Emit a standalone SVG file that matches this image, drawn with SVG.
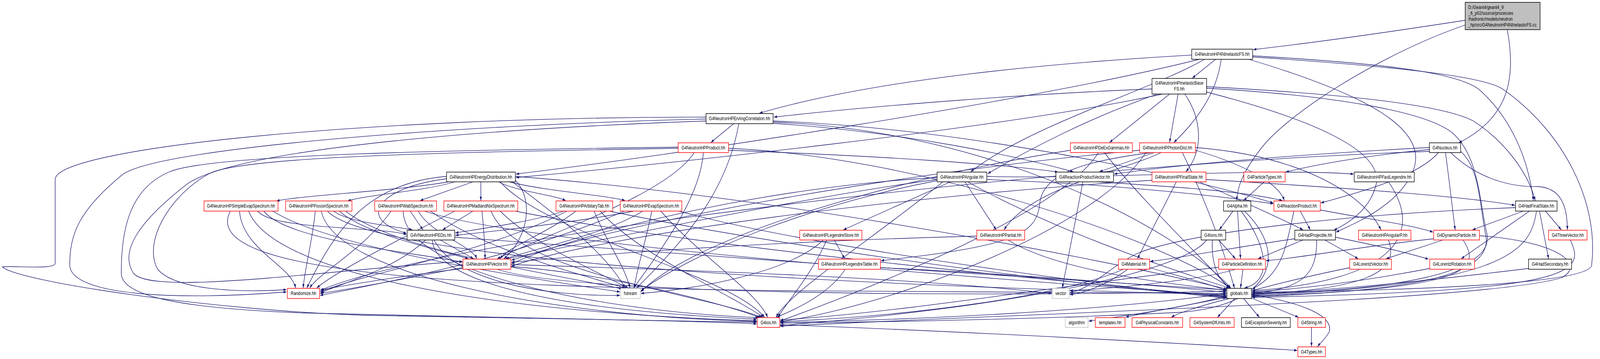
<svg xmlns="http://www.w3.org/2000/svg" width="5278" height="920" viewBox="0 0 5278 920">
<style>
.e{fill:none;stroke:#191970;stroke-width:1.3;marker-end:url(#a);vector-effect:non-scaling-stroke}
rect{vector-effect:non-scaling-stroke}
.n rect{fill:#fff;stroke:#000;stroke-width:1.3}
.r rect{fill:#fff;stroke:#ff0000;stroke-width:1.3}
.g rect{fill:#fff;stroke:#bfbfbf;stroke-width:1.3}
.root rect{fill:#bfbfbf;stroke:#000;stroke-width:1.3}
text{font-family:"Liberation Sans",Arial,Helvetica,sans-serif;font-size:13px;fill:#000;text-anchor:middle}
.root text{text-anchor:start}
</style>
<defs>
<marker id="a" markerUnits="userSpaceOnUse" markerWidth="11" markerHeight="8" refX="10" refY="3.5" orient="auto"><path d="M0,0 L10,3.5 L0,7 z" fill="#191970"/></marker>
</defs>
<rect x="0" y="0" width="5278" height="920" fill="#fff"/>
<g id="diagram" transform="scale(0.7761,1)">
<g id="edges">
<path class="e" d="M4833,52 C4600,80 4350,108 4134,127"/>
<path class="e" d="M4833,64 C4550,140 4250,290 4160,380 C4100,440 4080,480 4080,514"/>
<path class="e" d="M4972,76 C5000,200 4980,300 4812,366"/>
<path class="e" d="M4010,152 L3933,200"/>
<path class="e" d="M4028,152 C4015,230 3960,300 3872,365"/>
<path class="e" d="M3931,141 C3500,160 2900,200 2505,290"/>
<path class="e" d="M3956,152 C3400,260 2200,400 1702,446"/>
<path class="e" d="M3973,152 C3800,230 3400,320 3202,440"/>
<path class="e" d="M4132,143 C4500,160 4800,180 4880,230 C4980,300 5040,400 5058,514"/>
<path class="e" d="M4132,146 C4600,170 4900,195 4960,230 C5160,340 5275,520 5250,680 C5240,730 4600,745 4130,749"/>
<path class="e" d="M4119,152 C4500,240 4720,330 4660,440 C4610,530 4460,575 4407,595"/>
<path class="e" d="M3800,228 C3400,240 2900,270 2553,300"/>
<path class="e" d="M3818,241 C3600,300 3400,380 3258,445"/>
<path class="e" d="M3835,241 C3300,330 2200,420 1702,455"/>
<path class="e" d="M3858,241 L3660,365"/>
<path class="e" d="M3886,241 L3858,365"/>
<path class="e" d="M3908,241 C3960,300 3975,380 3912,440"/>
<path class="e" d="M3980,222 C4400,240 4750,265 4860,310 C4960,360 5040,440 5064,514"/>
<path class="e" d="M3980,226 C4400,245 4700,285 4790,340 C4880,400 4880,520 4905,600 C4930,700 4600,745 4130,753"/>
<path class="e" d="M3980,236 C4300,300 4560,380 4540,470 C4520,540 4440,575 4400,590"/>
<path class="e" d="M2420,317 L2345,365"/>
<path class="e" d="M2437,317 C2400,480 2280,600 2100,738"/>
<path class="e" d="M2550,310 C3200,330 3900,450 4200,520"/>
<path class="e" d="M2550,316 C3000,340 3350,400 3540,440"/>
<path class="e" d="M2550,313 C3300,335 3900,600 4060,738"/>
<path class="e" d="M2329,300 C1200,300 182,380 182,460 L182,675 C182,692 30,680 8,684 C60,722 700,795 1200,808 C1800,818 2300,824 2496,826"/>
<path class="e" d="M2329,305 C1500,320 500,380 400,450 C260,540 230,600 230,680 C235,760 600,770 945,748"/>
<path class="e" d="M2329,310 C1600,330 800,380 620,470 C470,560 390,640 440,700 C500,760 1100,690 1525,670"/>
<path class="e" d="M2237,377 C1500,385 700,395 560,440 C420,485 400,600 400,700 C400,760 600,790 1000,802 C1700,815 2300,822 2496,830"/>
<path class="e" d="M2237,380 C1500,390 800,400 690,445 C560,500 470,620 520,690 C580,745 800,750 945,742"/>
<path class="e" d="M2290,391 C2200,500 1800,600 1640,663"/>
<path class="e" d="M2320,391 C2310,500 2200,620 2090,738"/>
<path class="e" d="M2403,380 C3000,400 3800,600 4058,738"/>
<path class="e" d="M2403,385 C2900,400 3300,420 3490,441"/>
<path class="e" d="M1480,466 C1300,490 1000,500 912,515"/>
<path class="e" d="M1500,466 C1400,490 1200,500 1147,515"/>
<path class="e" d="M1560,466 L1386,514"/>
<path class="e" d="M1586,466 L1586,514"/>
<path class="e" d="M1645,466 C1700,490 1830,500 1866,514"/>
<path class="e" d="M1680,466 C1800,490 2000,500 2062,514"/>
<path class="e" d="M1474,458 C1250,480 1170,560 1341,598"/>
<path class="e" d="M1700,462 C1770,520 1730,620 1662,663"/>
<path class="e" d="M1473,452 C1200,470 1100,600 1012,738"/>
<path class="e" d="M1690,466 C1850,560 2000,650 2062,738"/>
<path class="e" d="M1700,452 C2500,500 3500,640 4048,741"/>
<path class="e" d="M1650,466 C1800,600 2400,700 2522,813"/>
<path class="e" d="M850,541 C900,590 1250,580 1341,601"/>
<path class="e" d="M870,541 C950,620 1400,650 1525,672"/>
<path class="e" d="M790,541 C800,640 960,680 975,738"/>
<path class="e" d="M900,541 C1100,640 1800,720 2045,748"/>
<path class="e" d="M760,541 C650,700 1500,735 2600,745 C3300,750 3800,750 4045,752"/>
<path class="e" d="M820,541 C900,700 1600,800 2496,822"/>
<path class="e" d="M1100,541 C1150,570 1300,580 1360,589"/>
<path class="e" d="M1120,541 C1200,600 1450,640 1545,663"/>
<path class="e" d="M1040,541 C1030,620 1005,690 1000,738"/>
<path class="e" d="M1140,541 C1300,640 1800,700 2052,740"/>
<path class="e" d="M1080,541 C1200,640 2200,720 4045,755"/>
<path class="e" d="M1060,541 C1100,700 1800,810 2496,824"/>
<path class="e" d="M1353,541 L1395,589"/>
<path class="e" d="M1380,541 C1420,600 1560,630 1572,663"/>
<path class="e" d="M1290,541 C1200,640 1050,700 1022,738"/>
<path class="e" d="M1420,541 C1600,640 1900,700 2062,738"/>
<path class="e" d="M1400,541 C1700,620 3000,700 4045,758"/>
<path class="e" d="M1330,541 C1330,700 2000,800 2502,814"/>
<path class="e" d="M1560,541 L1460,589"/>
<path class="e" d="M1590,541 C1595,590 1600,620 1600,663"/>
<path class="e" d="M1500,541 C1300,620 1100,700 1045,738"/>
<path class="e" d="M1650,541 C1750,620 1950,690 2072,738"/>
<path class="e" d="M1700,541 C2200,620 3200,700 4045,760"/>
<path class="e" d="M1620,541 C1700,700 2300,750 2512,813"/>
<path class="e" d="M1860,541 C1750,570 1550,590 1502,597"/>
<path class="e" d="M1900,541 C1800,600 1680,630 1650,663"/>
<path class="e" d="M1870,541 C1600,650 1200,700 1056,748"/>
<path class="e" d="M1960,541 C2000,620 2060,680 2078,738"/>
<path class="e" d="M2010,541 C2500,620 3400,720 4045,762"/>
<path class="e" d="M1980,541 C2100,650 2400,750 2518,813"/>
<path class="e" d="M2090,541 C1900,570 1600,595 1502,603"/>
<path class="e" d="M2120,541 C2000,600 1750,640 1668,663"/>
<path class="e" d="M2060,541 C1700,660 1300,720 1056,757"/>
<path class="e" d="M2150,541 C2130,620 2100,690 2092,738"/>
<path class="e" d="M2240,541 C2600,620 3500,720 4045,764"/>
<path class="e" d="M2180,541 C2300,650 2500,750 2532,813"/>
<path class="e" d="M3135,466 L2782,589"/>
<path class="e" d="M3183,466 L3286,589"/>
<path class="e" d="M3255,452 C3600,460 4200,430 4465,446"/>
<path class="e" d="M3255,460 C3600,470 3900,490 4200,522"/>
<path class="e" d="M3192,466 C3500,600 3900,700 4055,738"/>
<path class="e" d="M3091,455 C2500,480 1900,600 1687,676"/>
<path class="e" d="M3091,460 C2500,520 1500,700 1056,752"/>
<path class="e" d="M3110,466 C2900,600 2600,750 2560,813"/>
<path class="e" d="M3091,463 C2700,520 2300,640 2114,745"/>
<path class="e" d="M3620,466 C3900,480 4100,490 4230,514"/>
<path class="e" d="M3572,466 L3504,738"/>
<path class="e" d="M3880,466 L3752,663"/>
<path class="e" d="M3956,466 C4050,500 4200,550 4298,589"/>
<path class="e" d="M3978,460 C4400,480 4800,500 4997,526"/>
<path class="e" d="M3800,462 C3000,500 2000,600 1687,682"/>
<path class="e" d="M4170,466 L4102,514"/>
<path class="e" d="M4580,466 C4700,600 4600,720 4130,745"/>
<path class="e" d="M4067,541 L4022,589"/>
<path class="e" d="M4082,541 L4092,663"/>
<path class="e" d="M4094,541 C4180,630 4200,720 4105,738"/>
<path class="e" d="M4105,541 C4250,650 4200,780 3900,800 C3400,820 2800,826 2574,828"/>
<path class="e" d="M4289,541 L4322,589"/>
<path class="e" d="M4268,541 C4240,640 4230,700 4130,741"/>
<path class="e" d="M4355,538 C4500,560 4650,575 4727,595"/>
<path class="e" d="M5025,541 L4857,589"/>
<path class="e" d="M5045,541 L4820,663"/>
<path class="e" d="M5098,541 L5150,589"/>
<path class="e" d="M5078,541 L5108,663"/>
<path class="e" d="M5068,541 C5050,650 4950,730 4130,757"/>
<path class="e" d="M4999,532 C4400,550 3900,600 3750,650 C3650,690 3600,740 3529,750"/>
<path class="e" d="M4020,615 L4075,663"/>
<path class="e" d="M3999,615 C3995,680 4020,720 4058,738"/>
<path class="e" d="M3980,615 C3900,700 3300,790 2574,834"/>
<path class="e" d="M4271,612 C4100,630 3900,660 3794,670"/>
<path class="e" d="M4298,615 L4150,663"/>
<path class="e" d="M4370,615 L4480,663"/>
<path class="e" d="M4405,608 C4550,630 4650,650 4712,664"/>
<path class="e" d="M4343,615 C4345,700 4300,740 4130,752"/>
<path class="e" d="M4580,615 C4620,700 4500,740 4130,755"/>
<path class="e" d="M4760,615 L4572,663"/>
<path class="e" d="M4729,612 C4500,630 4300,660 4176,668"/>
<path class="e" d="M4826,615 C4900,700 4800,740 4130,759"/>
<path class="e" d="M4880,604 C5150,620 5230,680 5150,712 C4900,770 3500,800 2574,836"/>
<path class="e" d="M5180,615 C5230,700 5200,745 4130,762"/>
<path class="e" d="M1527,688 C1300,710 1150,730 1058,743"/>
<path class="e" d="M1640,690 C1900,760 3400,760 4045,746"/>
<path class="e" d="M1685,683 C2000,700 2400,780 2506,814"/>
<path class="e" d="M1685,678 C2200,690 3000,710 3469,752"/>
<path class="e" d="M1404,615 C1300,690 1150,720 1058,750"/>
<path class="e" d="M1452,615 L1562,663"/>
<path class="e" d="M1426,615 C1430,700 1700,790 2496,818"/>
<path class="e" d="M1500,608 C2200,650 3500,720 4045,743"/>
<path class="e" d="M1432,615 C1500,720 1800,760 2045,757"/>
<path class="e" d="M2752,615 L2786,663"/>
<path class="e" d="M2727,615 C2680,700 2600,770 2566,813"/>
<path class="e" d="M2716,615 C2600,700 2300,740 2114,752"/>
<path class="e" d="M3222,605 C2500,620 2000,650 1687,672"/>
<path class="e" d="M3325,615 C3500,700 3900,730 4045,744"/>
<path class="e" d="M2788,690 C2730,760 2600,800 2562,813"/>
<path class="e" d="M2904,686 C3300,700 3800,730 4045,749"/>
<path class="e" d="M3792,686 C3900,710 4000,730 4045,745"/>
<path class="e" d="M3706,690 C3500,760 3000,810 2574,824"/>
<path class="e" d="M3720,690 C3650,730 3580,750 3529,755"/>
<path class="e" d="M4100,690 L4092,738"/>
<path class="e" d="M4020,685 C3600,720 3000,800 2574,820"/>
<path class="e" d="M4076,690 C3950,720 3650,740 3529,745"/>
<path class="e" d="M4452,686 C4300,710 4200,730 4130,745"/>
<path class="e" d="M4716,688 C4500,720 4300,740 4130,748"/>
<path class="e" d="M5042,688 C4700,720 4400,745 4130,752"/>
<path class="e" d="M2572,832 C3200,850 3900,880 4279,898"/>
<path class="e" d="M4326,839 L4326,888"/>
<path class="e" d="M4047,762 C3900,785 3750,805 3713,813"/>
<path class="e" d="M4055,765 C3950,785 3880,805 3864,813"/>
<path class="e" d="M4073,765 L4016,813"/>
<path class="e" d="M4102,765 L4154,813"/>
<path class="e" d="M4128,764 L4283,813"/>
<path class="e" d="M4128,755 C4250,770 4400,800 4385,850 C4370,870 4352,882 4346,888"/>
<path class="e" d="M4047,758 C3900,790 3700,810 3591,823"/>
<path class="e" d="M4047,752 C3600,800 3000,820 2574,826"/>
<path class="e" d="M4715,378 C4300,395 3900,420 3675,446"/>
<path class="e" d="M4715,383 C4500,400 4350,420 4241,441"/>
<path class="e" d="M4715,388 C3500,420 1500,600 1056,744"/>
<path class="e" d="M4745,391 C4680,450 4500,490 4357,520"/>
<path class="e" d="M4768,391 C4780,460 4790,530 4800,589"/>
<path class="e" d="M4785,391 C4850,440 4950,480 5070,478 C5150,480 5170,530 5170,589"/>
<path class="e" d="M4818,388 C4880,430 4880,520 4900,600 C4930,700 4700,745 4130,760"/>
<path class="e" d="M3531,385 C3000,450 2300,600 2114,748"/>
<path class="e" d="M3643,391 C3750,500 3950,650 4055,738"/>
<path class="e" d="M3623,391 C3500,550 2800,760 2574,822"/>
<path class="e" d="M3807,391 L3627,440"/>
<path class="e" d="M3759,385 C3000,440 2100,560 1687,667"/>
<path class="e" d="M3800,391 C3600,410 3440,440 3430,520 C3420,600 3350,630 2906,668"/>
<path class="e" d="M3943,378 C4300,400 4500,500 4555,589"/>
<path class="e" d="M3830,391 C3700,440 3400,480 3312,589"/>
<path class="e" d="M3900,391 C4000,550 4050,680 4072,738"/>
<path class="e" d="M3780,391 C3600,600 2900,790 2574,824"/>
<path class="e" d="M3943,385 C4100,420 4220,470 4236,514"/>
</g>
<g id="node-root" class="root"><rect x="4833" y="6" width="247" height="70"/><text x="4843" y="23">D:/Geant4/geant4_9</text><text x="4843" y="38">_6_p02/source/processes</text><text x="4843" y="53">/hadronic/models/neutron</text><text x="4843" y="68">_hp/src/G4NeutronHP4NInelasticFS.cc</text></g>
<g id="node-n4N" class="n"><rect x="3931" y="126" width="201" height="26"/><text x="4031.5" y="143">G4NeutronHP4NInelasticFS.hh</text></g>
<g id="node-base" class="n"><rect x="3800" y="201" width="180" height="40"/><text x="3890" y="217">G4NeutronHPInelasticBase</text><text x="3890" y="232">FS.hh</text></g>
<g id="node-enang" class="n"><rect x="2329" y="291" width="221" height="26"/><text x="2439.5" y="308">G4NeutronHPEnAngCorrelation.hh</text></g>
<g id="node-product" class="r"><rect x="2237" y="366" width="166" height="25"/><text x="2320" y="383">G4NeutronHPProduct.hh</text></g>
<g id="node-deex" class="r"><rect x="3531" y="366" width="204" height="25"/><text x="3633" y="383">G4NeutronHPDeExGammas.hh</text></g>
<g id="node-photon" class="r"><rect x="3759" y="366" width="184" height="25"/><text x="3851" y="383">G4NeutronHPPhotonDist.hh</text></g>
<g id="node-nucleus" class="n"><rect x="4715" y="366" width="103" height="25"/><text x="4766.5" y="383">G4Nucleus.hh</text></g>
<g id="node-energy" class="n"><rect x="1473" y="441" width="227" height="25"/><text x="1586.5" y="458">G4NeutronHPEnergyDistribution.hh</text></g>
<g id="node-angular" class="n"><rect x="3091" y="441" width="164" height="25"/><text x="3173" y="458">G4NeutronHPAngular.hh</text></g>
<g id="node-rpv" class="n"><rect x="3483" y="441" width="190" height="25"/><text x="3578" y="458">G4ReactionProductVector.hh</text></g>
<g id="node-fs" class="r"><rect x="3800" y="441" width="178" height="25"/><text x="3889" y="458">G4NeutronHPFinalState.hh</text></g>
<g id="node-ptypes" class="r"><rect x="4103" y="441" width="136" height="25"/><text x="4171" y="458">G4ParticleTypes.hh</text></g>
<g id="node-fastleg" class="n"><rect x="4467" y="441" width="198" height="25"/><text x="4566" y="458">G4NeutronHPFastLegendre.hh</text></g>
<g id="node-simple" class="r"><rect x="673" y="515" width="244" height="26"/><text x="795" y="532">G4NeutronHPSimpleEvapSpectrum.hh</text></g>
<g id="node-fission" class="r"><rect x="942" y="515" width="219" height="26"/><text x="1051.5" y="532">G4NeutronHPFissionSpectrum.hh</text></g>
<g id="node-watt" class="r"><rect x="1236" y="515" width="204" height="26"/><text x="1338" y="532">G4NeutronHPWattSpectrum.hh</text></g>
<g id="node-madland" class="r"><rect x="1464" y="515" width="244" height="26"/><text x="1586" y="532">G4NeutronHPMadlandNixSpectrum.hh</text></g>
<g id="node-arbit" class="r"><rect x="1834" y="515" width="187" height="26"/><text x="1927.5" y="532">G4NeutronHPArbitaryTab.hh</text></g>
<g id="node-evap" class="r"><rect x="2046" y="515" width="203" height="26"/><text x="2147.5" y="532">G4NeutronHPEvapSpectrum.hh</text></g>
<g id="node-alpha" class="n"><rect x="4036" y="515" width="90" height="26"/><text x="4081" y="532">G4Alpha.hh</text></g>
<g id="node-rp" class="r"><rect x="4202" y="515" width="153" height="26"/><text x="4278.5" y="532">G4ReactionProduct.hh</text></g>
<g id="node-hadfs" class="n"><rect x="4999" y="515" width="137" height="26"/><text x="5067.5" y="532">G4HadFinalState.hh</text></g>
<g id="node-vedis" class="n"><rect x="1343" y="590" width="157" height="25"/><text x="1421.5" y="607">G4VNeutronHPEDis.hh</text></g>
<g id="node-lstore" class="r"><rect x="2638" y="590" width="205" height="25"/><text x="2740.5" y="607">G4NeutronHPLegendreStore.hh</text></g>
<g id="node-partial" class="r"><rect x="3222" y="590" width="158" height="25"/><text x="3301" y="607">G4NeutronHPPartial.hh</text></g>
<g id="node-ions" class="n"><rect x="3962" y="590" width="81" height="25"/><text x="4002.5" y="607">G4Ions.hh</text></g>
<g id="node-hadproj" class="n"><rect x="4271" y="590" width="134" height="25"/><text x="4338" y="607">G4HadProjectile.hh</text></g>
<g id="node-angp" class="r"><rect x="4481" y="590" width="173" height="25"/><text x="4567.5" y="607">G4NeutronHPAngularP.hh</text></g>
<g id="node-dynp" class="r"><rect x="4729" y="590" width="151" height="25"/><text x="4804.5" y="607">G4DynamicParticle.hh</text></g>
<g id="node-three" class="r"><rect x="5108" y="590" width="127" height="25"/><text x="5171.5" y="607">G4ThreeVector.hh</text></g>
<g id="node-hpvec" class="r"><rect x="1527" y="664" width="158" height="26"/><text x="1606" y="681">G4NeutronHPVector.hh</text></g>
<g id="node-ltable" class="r"><rect x="2700" y="664" width="204" height="26"/><text x="2802" y="681">G4NeutronHPLegendreTable.hh</text></g>
<g id="node-material" class="r"><rect x="3689" y="664" width="103" height="26"/><text x="3740.5" y="681">G4Material.hh</text></g>
<g id="node-pdef" class="r"><rect x="4020" y="664" width="154" height="26"/><text x="4097" y="681">G4ParticleDefinition.hh</text></g>
<g id="node-lvec" class="r"><rect x="4452" y="664" width="138" height="26"/><text x="4521" y="681">G4LorentzVector.hh</text></g>
<g id="node-lrot" class="r"><rect x="4716" y="664" width="148" height="26"/><text x="4790" y="681">G4LorentzRotation.hh</text></g>
<g id="node-hadsec" class="n"><rect x="5042" y="664" width="142" height="26"/><text x="5113" y="681">G4HadSecondary.hh</text></g>
<g id="node-random" class="r"><rect x="948" y="739" width="106" height="26"/><text x="1001" y="756">Randomize.hh</text></g>
<g id="node-fstream" class="g"><rect x="2047" y="739" width="65" height="26"/><text x="2079.5" y="756">fstream</text></g>
<g id="node-vector" class="g"><rect x="3471" y="739" width="56" height="26"/><text x="3499" y="756">vector</text></g>
<g id="node-globals" class="n"><rect x="4047" y="739" width="81" height="26"/><text x="4087.5" y="756">globals.hh</text></g>
<g id="node-ios" class="r"><rect x="2498" y="814" width="74" height="25"/><text x="2535" y="831">G4ios.hh</text></g>
<g id="node-algorithm" class="g"><rect x="3514" y="814" width="75" height="25"/><text x="3551.5" y="831">algorithm</text></g>
<g id="node-templates" class="r"><rect x="3613" y="814" width="98" height="25"/><text x="3662" y="831">templates.hh</text></g>
<g id="node-phys" class="r"><rect x="3734" y="814" width="167" height="25"/><text x="3817.5" y="831">G4PhysicalConstants.hh</text></g>
<g id="node-units" class="r"><rect x="3925" y="814" width="146" height="25"/><text x="3998" y="831">G4SystemOfUnits.hh</text></g>
<g id="node-excsev" class="n"><rect x="4095" y="814" width="161" height="25"/><text x="4175.5" y="831">G4ExceptionSeverity.hh</text></g>
<g id="node-string" class="r"><rect x="4281" y="814" width="91" height="25"/><text x="4326.5" y="831">G4String.hh</text></g>
<g id="node-types" class="r"><rect x="4281" y="889" width="91" height="25"/><text x="4326.5" y="906">G4Types.hh</text></g>
</g>
</svg>
